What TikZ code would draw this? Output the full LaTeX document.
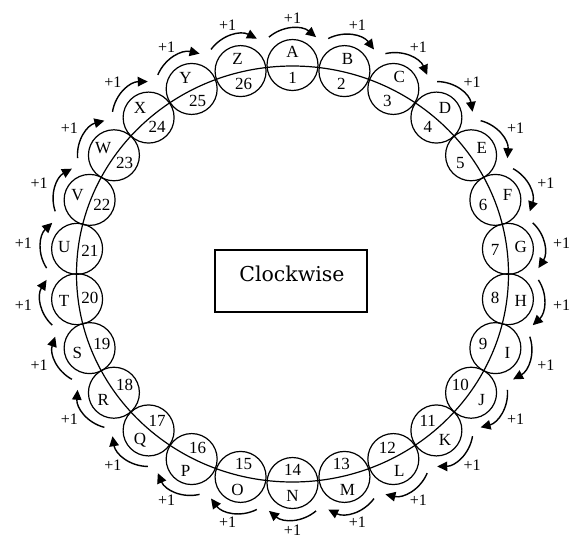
\documentclass[tikz,border=0pt]{standalone}
\usepackage{fontspec}
\setmainfont{Liberation Serif}
\newfontfamily\boxfont{DejaVu Serif}
\usetikzlibrary{arrows.meta}
\begin{document}
\begin{tikzpicture}[x=1pt,y=-1pt,
  ringc/.style={draw, circle, line width=1.2pt, minimum size=51pt, inner sep=0pt},
  lett/.style={font=\fontsize{17}{17}\selectfont, inner sep=0pt},
  numb/.style={font=\fontsize{17}{17}\selectfont, inner sep=0pt},
  plus/.style={font=\fontsize{16}{16}\selectfont, inner sep=0pt},
  arr/.style={line width=1.4pt, -{Triangle[length=10pt,width=9.5pt]}},
  boxstyle/.style={draw, line width=1.1pt, minimum width=152pt, minimum height=62pt, inner sep=0pt}
]
\useasboundingbox (0,0) rectangle (573,539);
\def\cx{292.5}
\def\cy{274}
\draw[line width=1.2pt] (\cx,\cy) ellipse [x radius=216pt, y radius=208pt];
\foreach \L [count=\n] in {A,B,C,D,E,F,G,H,I,J,K,L,M,N,O,P,Q,R,S,T,U,V,W,X,Y,Z} {
  \pgfmathsetmacro\a{90-(\n-1)*360/26}
  \node[ringc] (c\n) at ({\cx+217*cos(\a)},{\cy-209*sin(\a)}) {};
  \node[lett] (l\n) at ({\cx+230*cos(\a)},{\cy-222*sin(\a)}) {\L};
  \node[numb] (n\n) at ({\cx+204*cos(\a)},{\cy-196*sin(\a)}) {\n};
  \coordinate (s\n) at ({\cx+246*cos(\a+5.5)},{\cy-238*sin(\a+5.5)});
  \coordinate (e\n) at ({\cx+246*cos(\a-5.5)},{\cy-238*sin(\a-5.5)});
  \draw[arr] (s\n) to[bend left=40] (e\n);
  \node[plus] (p\n) at ({\cx+271*cos(\a)},{\cy-256*sin(\a)}) {+1};
}
\node[boxstyle] (box) at (291,281) {};
\node[font=\boxfont\fontsize{20.5}{20.5}\selectfont, inner sep=0pt] (cw) at (292,274) {Clockwise};
\end{tikzpicture}
\end{document}
